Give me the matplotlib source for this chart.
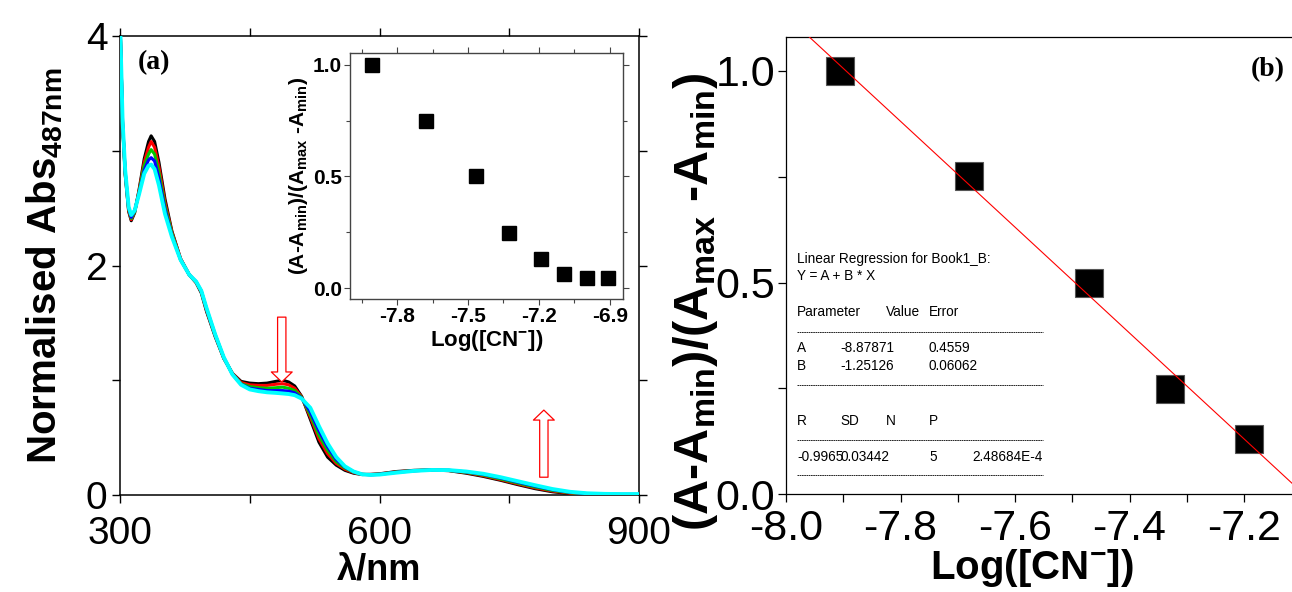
import numpy as np
import matplotlib
matplotlib.use("Agg")
import matplotlib.pyplot as plt
from matplotlib import font_manager
from matplotlib.ticker import MultipleLocator

# ---------------- data ----------------
wavelength = [300, 303, 306, 310, 313, 317, 322, 328, 333, 336, 340, 345, 352, 360, 370,
              380, 388, 394, 400, 410, 420, 430, 440, 450, 460, 470, 480, 488, 495, 502,
              510, 520, 530, 540, 550, 560, 570, 580, 590, 600, 620, 640, 660, 680, 700,
              720, 740, 760, 780, 800, 820, 840, 860, 880, 900]

abs_black = [4.15, 3.22, 2.79, 2.47, 2.39, 2.46, 2.66, 2.93, 3.08, 3.13, 3.08, 2.90, 2.58, 2.30, 2.06,
             1.92, 1.85, 1.76, 1.60, 1.38, 1.19, 1.06, 0.99, 0.975, 0.97, 0.975, 0.99, 1.00, 0.985, 0.95,
             0.86, 0.66, 0.46, 0.33, 0.26, 0.215, 0.19, 0.178, 0.18, 0.185, 0.205, 0.215, 0.218, 0.212, 0.19,
             0.162, 0.128, 0.09, 0.055, 0.028, 0.012, 0.006, 0.004, 0.003, 0.003]
abs_red = [4.15, 3.23, 2.80, 2.48, 2.40, 2.47, 2.65, 2.90, 3.03, 3.08, 3.03, 2.86, 2.55, 2.29, 2.06,
           1.92, 1.85, 1.77, 1.61, 1.39, 1.19, 1.06, 0.98, 0.96, 0.955, 0.955, 0.965, 0.97, 0.96, 0.93,
           0.855, 0.68, 0.49, 0.36, 0.275, 0.225, 0.195, 0.18, 0.179, 0.183, 0.202, 0.213, 0.218, 0.214, 0.195,
           0.168, 0.134, 0.097, 0.062, 0.034, 0.016, 0.008, 0.005, 0.004, 0.004]
abs_green = [4.15, 3.24, 2.81, 2.49, 2.41, 2.47, 2.64, 2.87, 2.97, 3.01, 2.97, 2.81, 2.52, 2.28, 2.05,
             1.92, 1.855, 1.775, 1.62, 1.395, 1.195, 1.055, 0.97, 0.945, 0.935, 0.93, 0.935, 0.94, 0.93, 0.91,
             0.85, 0.70, 0.52, 0.39, 0.29, 0.235, 0.20, 0.18, 0.177, 0.181, 0.20, 0.212, 0.218, 0.215, 0.198,
             0.174, 0.14, 0.104, 0.069, 0.04, 0.02, 0.01, 0.006, 0.005, 0.005]
abs_blue = [4.15, 3.25, 2.82, 2.50, 2.42, 2.48, 2.63, 2.83, 2.92, 2.94, 2.91, 2.76, 2.49, 2.26, 2.05,
            1.92, 1.86, 1.778, 1.625, 1.398, 1.198, 1.052, 0.965, 0.93, 0.92, 0.91, 0.91, 0.91, 0.905, 0.89,
            0.845, 0.725, 0.56, 0.42, 0.31, 0.243, 0.203, 0.18, 0.176, 0.18, 0.198, 0.211, 0.218, 0.216, 0.202,
            0.18, 0.148, 0.112, 0.077, 0.046, 0.024, 0.012, 0.008, 0.006, 0.006]
abs_cyan = [4.15, 3.26, 2.83, 2.51, 2.44, 2.48, 2.62, 2.80, 2.87, 2.88, 2.84, 2.70, 2.45, 2.25, 2.05,
            1.92, 1.86, 1.78, 1.63, 1.40, 1.20, 1.05, 0.96, 0.92, 0.905, 0.895, 0.89, 0.885, 0.88, 0.87,
            0.84, 0.76, 0.60, 0.45, 0.33, 0.25, 0.205, 0.18, 0.175, 0.178, 0.195, 0.21, 0.218, 0.217, 0.205,
            0.185, 0.155, 0.12, 0.085, 0.052, 0.028, 0.015, 0.01, 0.008, 0.008]
series = [abs_black, abs_red, abs_green, abs_blue, abs_cyan]
series_colors = ["#000000", "#ff0000", "#00c800", "#0000ff", "#00ffff"]
series_widths = [2.2, 2.2, 2.2, 2.2, 2.8]

inset_logcn = [-7.906, -7.68, -7.468, -7.328, -7.19, -7.095, -6.997, -6.908]
inset_ratio = [1.0, 0.75, 0.5, 0.247, 0.13, 0.063, 0.045, 0.045]

fit_logcn = [-7.906, -7.681, -7.470, -7.330, -7.192]
fit_ratio = [1.0, 0.751, 0.5, 0.249, 0.129]
fit_A = -8.87871
fit_B = -1.25126

reg_rows = [
    ["Linear Regression for Book1_B:"],
    ["Y = A + B * X"],
    ["Parameter", "", "Value", "Error"],
    None,
    ["A", "-8.87871", "", "0.4559"],
    ["B", "-1.25126", "", "0.06062"],
    None,
    ["R", "SD", "N", "P"],
    None,
    ["-0.9965", "0.03442", "", "5", "2.48684E-4"],
    None,
]

# ---------------- fonts ----------------
names = {f.name for f in font_manager.fontManager.ttflist}
NARROW = "Liberation Sans Narrow" in names
TICKFAM = ["Liberation Sans Narrow", "Liberation Sans"] if NARROW else ["Liberation Sans"]
A_TICK = 33 if NARROW else 28
B_TICK = 36 if NARROW else 31
IN_TICK = 18 if NARROW else 15
REG_SIZE = 11.5 if NARROW else 9.8

plt.rcParams["font.family"] = ["Liberation Sans", "DejaVu Sans"]
plt.rcParams["axes.unicode_minus"] = False
plt.rcParams["mathtext.fontset"] = "custom"
plt.rcParams["mathtext.rm"] = "Liberation Sans"
plt.rcParams["mathtext.it"] = "Liberation Sans:italic"
plt.rcParams["mathtext.bf"] = "Liberation Sans:bold"

fig = plt.figure(figsize=(12.92, 5.92), dpi=100)
W, H = 1292, 592


def px_axes(l, t, r, b):
    return [l / W, (H - b) / H, (r - l) / W, (b - t) / H]


# ---------------- panel (a) ----------------
axA = fig.add_axes(px_axes(120, 36, 639, 495))
for y, c, lw in zip(series, series_colors, series_widths):
    axA.plot(wavelength, y, color=c, lw=lw, solid_capstyle="round", zorder=3)
axA.set_xlim(300, 900)
axA.set_ylim(0, 4)
axA.xaxis.set_major_locator(MultipleLocator(300))
axA.xaxis.set_minor_locator(MultipleLocator(150))
axA.yaxis.set_major_locator(MultipleLocator(2))
axA.yaxis.set_minor_locator(MultipleLocator(1))
axA.tick_params(which="both", direction="out", top=True, right=True, width=1.0)
axA.tick_params(which="major", length=6, labelsize=A_TICK, pad=3)
axA.tick_params(axis="x", which="major", pad=9)
axA.tick_params(which="minor", length=6)
for lab in axA.get_xticklabels() + axA.get_yticklabels():
    lab.set_family(TICKFAM)
for s in axA.spines.values():
    s.set_linewidth(1.1)
axA.set_xlabel("λ/nm", fontsize=26, fontweight="bold", labelpad=0.5)
axA.set_ylabel(r"Normalised Abs$_{\mathbf{487nm}}$", fontsize=29, fontweight="bold", labelpad=15)
axA.text(0.0655, 0.941, "(a)", transform=axA.transAxes, fontsize=20, fontweight="bold",
         family="Liberation Serif", ha="center", va="center")

arrow_style = "simple,head_length=0.6,head_width=1.25,tail_width=0.5"
axA.annotate("", xy=(487, 0.985), xytext=(487, 1.55),
             arrowprops=dict(arrowstyle=arrow_style, fc="white", ec="red", lw=0.9,
                             mutation_scale=12, shrinkA=0, shrinkB=0), zorder=5)
axA.annotate("", xy=(790, 0.74), xytext=(790, 0.155),
             arrowprops=dict(arrowstyle=arrow_style, fc="white", ec="red", lw=0.9,
                             mutation_scale=12, shrinkA=0, shrinkB=0), zorder=5)

# ---------------- inset ----------------
axI = fig.add_axes(px_axes(350, 53, 622.7, 299))
axI.plot(inset_logcn, inset_ratio, ls="none", marker="s", ms=10, color="black")
axI.set_xlim(-8.0, -6.845)
axI.set_ylim(-0.048, 1.052)
axI.set_xticks([-7.8, -7.5, -7.2, -6.9])
axI.set_xticks([-7.95, -7.65, -7.35, -7.05], minor=True)
axI.yaxis.set_major_locator(MultipleLocator(0.5))
axI.yaxis.set_minor_locator(MultipleLocator(0.25))
axI.tick_params(which="both", direction="out", top=True, right=True, width=0.8, color="#444444")
axI.tick_params(which="major", length=4, labelsize=IN_TICK, pad=2)
axI.tick_params(which="minor", length=3)
for lab in axI.get_xticklabels() + axI.get_yticklabels():
    lab.set_family(TICKFAM)
    lab.set_fontweight("bold")
for s in axI.spines.values():
    s.set_linewidth(1.0)
    s.set_color("#444444")
axI.set_xlabel(r"Log([CN$^{\mathbf{-}}$])", fontsize=16, fontweight="bold", labelpad=1)
axI.set_ylabel(r"(A-A$_{\mathbf{min}}$)/(A$_{\mathbf{max}}$ -A$_{\mathbf{min}}$)",
               fontsize=15, fontweight="bold", labelpad=2)

# ---------------- panel (b) ----------------
axB = fig.add_axes(px_axes(786, 37, 1300, 494))
axB.plot(fit_logcn, fit_ratio, ls="none", marker="s", ms=19.5, color="black",
         mec="#555555", mew=0.8, zorder=3)
xlim_b = (-8.0, -8.0 + 514 / 572.5)
xl = np.array(xlim_b)
axB.plot(xl, fit_A + fit_B * xl, color="red", lw=0.8, zorder=4)
axB.set_xlim(*xlim_b)
axB.set_ylim(0, 457 / 423)
axB.xaxis.set_major_locator(MultipleLocator(0.2))
axB.xaxis.set_minor_locator(MultipleLocator(0.1))
axB.yaxis.set_major_locator(MultipleLocator(0.5))
axB.yaxis.set_minor_locator(MultipleLocator(0.25))
axB.tick_params(which="both", direction="out", width=0.9)
axB.tick_params(which="major", length=6, labelsize=B_TICK, pad=2)
axB.tick_params(axis="x", which="major", pad=5)
axB.tick_params(which="minor", length=6)
for lab in axB.get_xticklabels() + axB.get_yticklabels():
    lab.set_family(TICKFAM)
axB.spines["right"].set_visible(False)
for s in axB.spines.values():
    s.set_linewidth(0.9)
axB.set_xlabel(r"Log([CN$^{\mathbf{-}}$])", fontsize=29, fontweight="bold")
axB.xaxis.set_label_coords(0.479, -0.115)
axB.set_ylabel(r"(A-A$_{\mathbf{min}}$)/(A$_{\mathbf{max}}$ -A$_{\mathbf{min}}$)",
               fontsize=35, fontweight="bold")
axB.yaxis.set_label_coords(-0.128, 0.42)
axB.text(0.938, 0.928, "(b)", transform=axB.transAxes, fontsize=20, fontweight="bold",
         family="Liberation Serif", ha="center", va="center")

# regression report
col_x = [0.0214, 0.1051, 0.1936, 0.2782, 0.3630]
row_y = [0.5151, 0.4761, 0.3982, 0.3549, 0.3197, 0.2792, 0.2376, 0.1597, 0.1190, 0.0814, 0.0416]
for row, yy in zip(reg_rows, row_y):
    if row is None:
        axB.plot([col_x[0], 0.5], [yy, yy], transform=axB.transAxes, color="black",
                 lw=0.6, ls=(0, (2.0, 0.7)), zorder=2)
        continue
    for txt, xx in zip(row, col_x):
        if txt:
            axB.text(xx, yy, txt, transform=axB.transAxes, fontsize=REG_SIZE,
                     family=TICKFAM, ha="left", va="center")

fig.savefig("out.png", dpi=100)
